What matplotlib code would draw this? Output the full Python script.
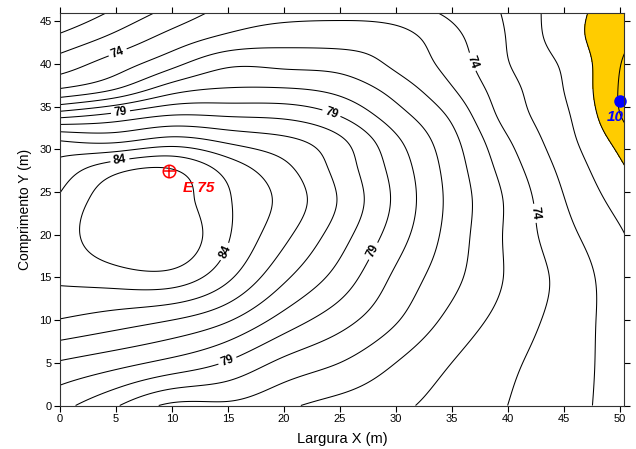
import numpy as np
import matplotlib.pyplot as plt

# Grid points (m) and sound level (dB)
x_m = [0, 5, 10, 15, 20, 25, 30, 35, 40, 45, 50.5]
y_m = [0, 5, 10, 15, 20, 24, 28, 31, 34, 37, 40, 43, 46]
nivel_db = [
    [79.3, 78.1, 76.8, 76.8, 76.2, 75.65, 75.2, 74.6, 74.0, 73.35, 72.6],    # y=0
    [80.9, 80.35, 79.7, 78.9, 77.75, 77.0, 76.0, 75.0, 74.2, 73.45, 72.55],  # y=5
    [82.95, 82.5, 82.0, 81.1, 79.6, 78.4, 77.1, 75.7, 74.6, 73.6, 72.45],    # y=10
    [84.15, 84.5, 84.6, 83.2, 81.2, 79.6, 77.8, 76.3, 74.9, 73.7, 72.3],     # y=15
    [84.45, 85.8, 85.85, 84.1, 82.27, 80.45, 78.5, 76.6, 74.85, 73.35, 72.0],# y=20
    [84.15, 85.6, 85.5, 84.1, 82.7, 80.9, 78.8, 76.7, 74.85, 73.05, 71.55],  # y=24
    [83.3, 84.5, 84.85, 83.5, 82.2, 80.6, 78.6, 76.55, 74.5, 72.7, 71.0],    # y=28
    [82.0, 81.8, 82.4, 81.8, 81.25, 80.2, 78.2, 76.3, 74.1, 72.4, 70.5],     # y=31
    [78.6, 79.3, 80.0, 79.9, 79.75, 78.95, 77.4, 75.8, 73.6, 72.2, 69.8],    # y=34
    [75.1, 76.05, 77.6, 78.1, 78.1, 77.7, 76.6, 75.1, 73.35, 72.0, 69.7],    # y=37
    [73.5, 74.5, 75.7, 76.8, 76.75, 76.6, 75.8, 74.6, 73.05, 71.85, 69.85],  # y=40
    [72.25, 73.3, 74.4, 75.25, 75.6, 75.6, 75.4, 74.3, 72.95, 71.5, 70.2],   # y=43
    [71.0, 72.2, 73.35, 74.3, 74.65, 74.75, 74.5, 73.8, 72.85, 71.45, 70.5], # y=46
]

niveis = list(range(70, 86))
niveis_rotulo = [74, 79, 84]
limite_amarelo = 71

# equipment and measuring point
fonte_xy = (9.7, 27.5)
fonte_nome = "E 75"
ponto_xy = (50.0, 35.7)
ponto_nome = "10"

# where the contour labels sit
pos_rotulos = [(5.2, 41.2), (37.2, 40.4), (42.4, 22.5),
               (5.4, 34.4), (24.3, 34.4), (28.4, 17.8), (15.0, 5.1),
               (5.4, 28.3), (14.6, 18.1)]


def spline(xk, yk, xf):
    # natural cubic spline along axis 0 (yk may have several columns)
    xk = np.asarray(xk, float)
    yk = np.asarray(yk, float)
    n = len(xk)
    h = np.diff(xk)
    A = np.zeros((n, n))
    r = np.zeros_like(yk)
    A[0, 0] = A[-1, -1] = 1
    for i in range(1, n - 1):
        A[i, i - 1] = h[i - 1]
        A[i, i] = 2 * (h[i - 1] + h[i])
        A[i, i + 1] = h[i]
        r[i] = 3 * ((yk[i + 1] - yk[i]) / h[i] - (yk[i] - yk[i - 1]) / h[i - 1])
    c = np.linalg.solve(A, r)
    hh = h[:, None] if yk.ndim > 1 else h
    b = np.diff(yk, axis=0) / hh - hh * (2 * c[:-1] + c[1:]) / 3
    d = np.diff(c, axis=0) / (3 * hh)
    k = np.clip(np.searchsorted(xk, xf) - 1, 0, n - 2)
    dx = xf - xk[k]
    if yk.ndim > 1:
        dx = dx[:, None]
    return yk[k] + b[k] * dx + c[k] * dx ** 2 + d[k] * dx ** 3


plt.rcParams['font.family'] = ['Liberation Sans', 'DejaVu Sans']

Z = np.array(nivel_db)
xf = np.linspace(x_m[0], x_m[-1], 300)
yf = np.linspace(y_m[0], y_m[-1], 280)
Zf = spline(y_m, spline(x_m, Z.T, xf).T, yf)

fig = plt.figure(figsize=(6.36, 4.49), dpi=100)
ax = fig.add_axes([60 / 636, 43.5 / 449, 564 / 636, 392.8 / 449])

ax.contourf(xf, yf, Zf, levels=[0, limite_amarelo], colors=['#FFCC00'])
outros = [n for n in niveis if n not in niveis_rotulo]
ax.contour(xf, yf, Zf, levels=outros, colors='black', linewidths=0.75)
cs = ax.contour(xf, yf, Zf, levels=niveis_rotulo, colors='black',
                linewidths=0.75)
lab = ax.clabel(cs, manual=pos_rotulos, fmt='%d', fontsize=8.5,
                inline=True, inline_spacing=3)
for t in lab:
    t.set_fontweight('bold')

ax.plot(*fonte_xy, marker='o', ms=9, mfc='none', mec='red', mew=1.1)
ax.plot(*fonte_xy, marker='+', ms=9, color='red', mew=1.1)
ax.text(fonte_xy[0] + 1.3, fonte_xy[1] - 2.0, fonte_nome, color='red',
        fontsize=11, fontweight='bold', fontstyle='italic', va='center')

ax.plot(*ponto_xy, marker='o', ms=8, color='blue', clip_on=False)
ax.text(ponto_xy[0] + 0.4, ponto_xy[1] - 1.9, ponto_nome, color='blue',
        fontsize=11, fontweight='bold', fontstyle='italic', va='center',
        ha='right')

ax.set_xlim(0, 50.4)
ax.set_ylim(0, 46)
ax.set_xticks(range(0, 51, 5))
ax.set_yticks(range(0, 46, 5))
ax.tick_params(direction='out', length=4, width=0.8, labelsize=8,
               top=True, right=True, pad=2)
for s in ax.spines.values():
    s.set_linewidth(0.8)
    s.set_color('#333333')

ax.set_xlabel('Largura X (m)', fontsize=10.5, labelpad=6)
ax.set_ylabel('Comprimento Y (m)', fontsize=10, labelpad=5)

fig.savefig('out.png', dpi=100)
